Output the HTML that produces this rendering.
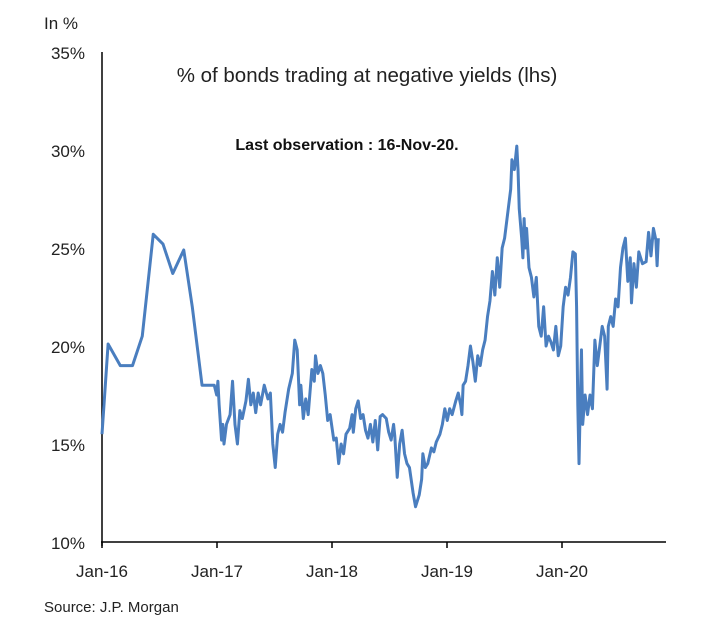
<!DOCTYPE html>
<html><head><meta charset="utf-8"><style>
body{margin:0;background:#fff;}
svg{display:block;font-family:"Liberation Sans",Arial,sans-serif;}
</style></head><body>
<svg width="709" height="621" viewBox="0 0 709 621" xmlns="http://www.w3.org/2000/svg">
<rect width="709" height="621" fill="#fff"/>
<text x="44" y="29" font-size="17" fill="#222">In %</text>
<g font-size="17" fill="#222" text-anchor="end">
<text x="85" y="59">35%</text>
<text x="85" y="157">30%</text>
<text x="85" y="255">25%</text>
<text x="85" y="353">20%</text>
<text x="85" y="451">15%</text>
<text x="85" y="549">10%</text>
</g>
<line x1="102" y1="52" x2="102" y2="546" stroke="#000" stroke-width="1.5"/>
<line x1="101" y1="542" x2="666" y2="542" stroke="#000" stroke-width="1.5"/>
<g stroke="#000" stroke-width="1.5">
<line x1="102" y1="542" x2="102" y2="548"/><line x1="217" y1="542" x2="217" y2="548"/>
<line x1="332" y1="542" x2="332" y2="548"/><line x1="447" y1="542" x2="447" y2="548"/>
<line x1="562" y1="542" x2="562" y2="548"/>
</g>
<g font-size="17" fill="#222" text-anchor="middle">
<text x="102" y="577">Jan-16</text><text x="217" y="577">Jan-17</text>
<text x="332" y="577">Jan-18</text><text x="447" y="577">Jan-19</text>
<text x="562" y="577">Jan-20</text>
</g>
<text x="367" y="82" font-size="20.5" text-anchor="middle" fill="#222">% of bonds trading at negative yields (lhs)</text>
<text x="347" y="150" font-size="16" font-weight="bold" text-anchor="middle" fill="#111">Last observation : 16-Nov-20.</text>
<text x="44" y="612" font-size="15" fill="#222">Source: J.P. Morgan</text>
<g transform="translate(102,738) scale(122,-19.6)">
<polyline fill="none" stroke="#4a7ebf" stroke-width="3" stroke-linejoin="round" vector-effect="non-scaling-stroke" points="0,15.5 .05,20.1 .15,19 .25,19 .33,20.5 .42,25.7 .5,25.2 .58,23.7 .67,24.9 .74,22 .82,18 .92,18 .94,17.5 .95,18.2 .96,17 .98,15.2 .99,16 1.0,15 1.02,16 1.05,16.5 1.07,18.2 1.09,16 1.11,15 1.13,16.7 1.15,16.3 1.18,17.2 1.2,18.3 1.22,17 1.24,17.6 1.26,16.6 1.28,17.6 1.3,17 1.33,18 1.36,17.3 1.38,17.6 1.4,15 1.42,13.8 1.44,15.5 1.46,16 1.48,15.6 1.5,16.6 1.53,17.8 1.56,18.6 1.58,20.3 1.6,19.8 1.62,17 1.63,18 1.65,16.3 1.67,17.3 1.69,16.5 1.72,18.8 1.74,18.2 1.75,19.5 1.77,18.6 1.79,19 1.81,18.6 1.83,17.5 1.85,16.2 1.87,16.5 1.9,15.2 1.92,15.3 1.94,14 1.96,15 1.98,14.5 2.0,15.5 2.03,15.8 2.05,16.5 2.06,15.6 2.08,16.8 2.1,17.2 2.12,16.3 2.14,16.5 2.16,15.7 2.18,15.3 2.2,16 2.22,15.1 2.24,16.2 2.26,14.7 2.28,16.4 2.3,16.5 2.33,16.3 2.35,15.6 2.37,15.2 2.39,16 2.4,15.4 2.42,13.3 2.44,15 2.46,15.7 2.48,14.5 2.5,14 2.52,13.8 2.55,12.5 2.57,11.8 2.6,12.4 2.62,13.2 2.63,14.5 2.65,13.8 2.67,14 2.7,14.8 2.72,14.6 2.74,15.1 2.77,15.5 2.79,16 2.81,16.8 2.83,16.2 2.85,16.8 2.87,16.5 2.9,17.2 2.92,17.6 2.94,17 2.95,16.5 2.96,18 2.98,18.2 3.0,19 3.02,20 3.04,19.2 3.06,18.2 3.08,19.5 3.1,19 3.12,19.8 3.14,20.3 3.16,21.5 3.18,22.3 3.2,23.8 3.22,22.6 3.24,24.5 3.26,23 3.28,25 3.3,25.5 3.33,27 3.35,28 3.36,29.5 3.38,29 3.4,30.2 3.41,29 3.42,27 3.44,25.5 3.45,24.5 3.46,26.5 3.47,25 3.48,26 3.5,24 3.52,23.5 3.54,22.5 3.56,23.5 3.58,21 3.6,20.5 3.62,22 3.64,20 3.66,20.5 3.68,20.2 3.7,19.8 3.72,21 3.74,19.5 3.76,20 3.78,22 3.8,23 3.82,22.6 3.84,23.5 3.86,24.8 3.88,24.7 3.89,22 3.9,17 3.91,14 3.92,17 3.93,19.8 3.94,16 3.96,17.5 3.98,16.5 4.0,17.5 4.02,16.8 4.04,20.3 4.06,19 4.08,20 4.1,21 4.12,20.5 4.14,17.8 4.15,21 4.17,21.5 4.19,21 4.21,22.4 4.23,22 4.25,24 4.27,25 4.29,25.5 4.31,23.3 4.33,24.5 4.34,22.2 4.36,24.2 4.38,23 4.4,24.8 4.43,24.2 4.46,24.3 4.48,25.8 4.5,24.6 4.52,26 4.54,25.4 4.55,24.1 4.56,25.5"/>
</g>
</svg>
</body></html>
